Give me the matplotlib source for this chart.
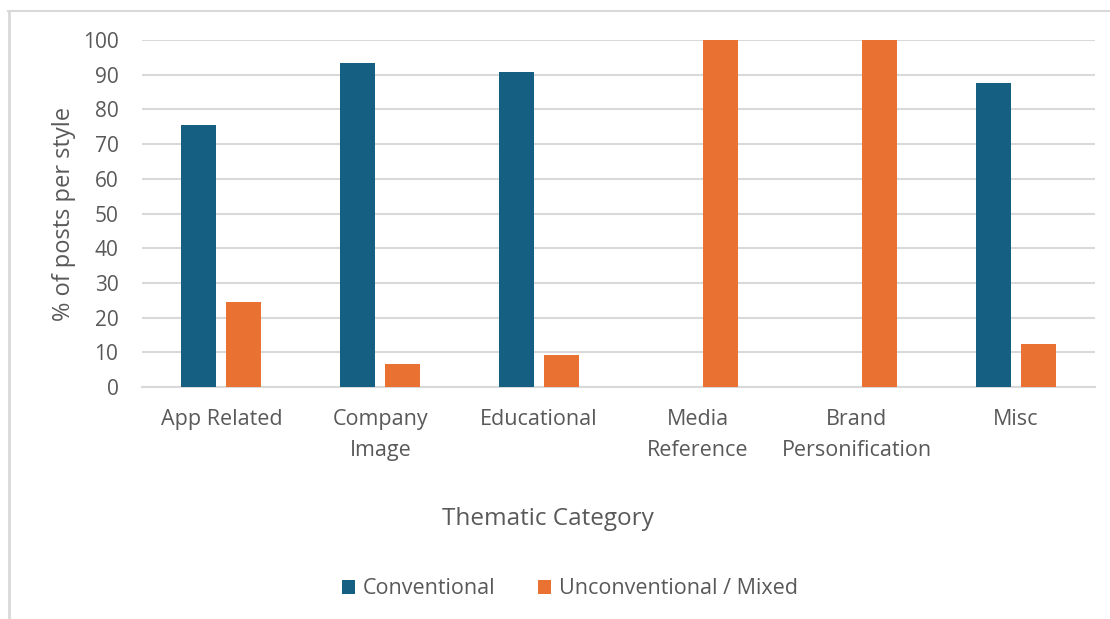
import numpy as np
import matplotlib.pyplot as plt
from matplotlib.lines import Line2D

# Data
categories = ["App Related", "Company\nImage", "Educational", "Media\nReference",
              "Brand\nPersonification", "Misc"]
conventional = [75.6, 93.3, 90.9, 0, 0, 87.5]
unconventional = [24.4, 6.7, 9.1, 100, 100, 12.5]
y_ticks = [0, 10, 20, 30, 40, 50, 60, 70, 80, 90, 100]

blue = "#156082"
orange = "#E97132"
text_gray = "#595959"
grid_gray = "#D9D9D9"

plt.rcParams["font.family"] = ["Open Sans", "DejaVu Sans"]

fig = plt.figure(figsize=(11.1, 6.19), dpi=100)
ax = fig.add_axes([142 / 1110, 1 - 387 / 619, (1095 - 142) / 1110, (387 - 40) / 619])

x = np.arange(len(categories))
width = 0.22
ax.bar(x - 0.142, conventional, width, color=blue, label="Conventional", zorder=3)
ax.bar(x + 0.142, unconventional, width, color=orange, label="Unconventional / Mixed", zorder=3)

ax.set_xlim(-0.5, len(categories) - 0.5)
ax.set_ylim(0, 100)
ax.set_yticks(y_ticks)
ax.set_xticks(x)
ax.set_xticklabels(categories, linespacing=1.6, va="top")
ax.tick_params(axis="both", length=0, labelcolor=text_gray)
ax.tick_params(axis="x", pad=16, labelsize=15.5)
ax.tick_params(axis="y", pad=17, labelsize=15)
ax.grid(axis="y", color=grid_gray, linewidth=1.5, zorder=0)

for side in ["top", "right", "left"]:
    ax.spines[side].set_visible(False)
ax.spines["bottom"].set_color(grid_gray)
ax.spines["bottom"].set_linewidth(1.5)

ax.set_ylabel("% of posts per style", fontsize=17, color=text_gray, labelpad=5)
fig.text(548 / 1110, 1 - 519 / 619, "Thematic Category", fontsize=17.5,
         color=text_gray, ha="center", va="center")

leg = fig.legend(loc="center", bbox_to_anchor=(570 / 1110, 1 - 589 / 619), ncol=2,
                 frameon=False, fontsize=15.5, handlelength=0.6, handleheight=0.6,
                 handletextpad=0.35, columnspacing=2.0)
for t in leg.get_texts():
    t.set_color(text_gray)

# chart frame (left and top edges visible)
fig.add_artist(Line2D([8.5 / 1110, 8.5 / 1110], [0, 1 - 11 / 619],
                      transform=fig.transFigure, color=grid_gray, linewidth=2))
fig.add_artist(Line2D([8 / 1110, 1], [1 - 11 / 619, 1 - 11 / 619],
                      transform=fig.transFigure, color=grid_gray, linewidth=1.5))

fig.savefig("out.png", dpi=100)
